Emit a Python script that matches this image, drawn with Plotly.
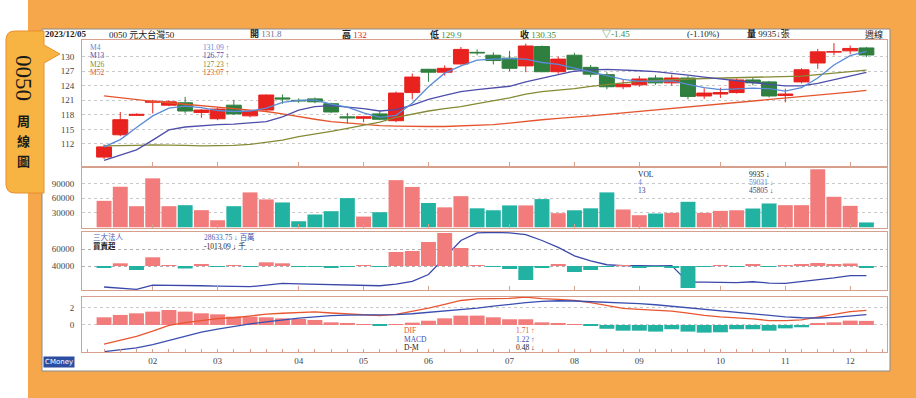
import plotly.graph_objects as go

W, H = 916, 398

# ---------------- data ----------------
weeks = list(range(48))
month_idx = [3, 7, 12, 16, 20, 25, 29, 33, 38, 42, 46]
month_labels = ["02", "03", "04", "05", "06", "07", "08", "09", "10", "11", "12"]

open_ = [109.3, 113.9, 117.9, 120.6, 120.0, 120.5, 118.5, 117.2, 120.0, 117.8,
         119.0, 121.5, 121.0, 121.3, 120.3, 117.6, 117.3, 118.2, 116.8, 122.6,
         127.4, 126.8, 128.5, 130.9, 130.3, 129.7, 128.1, 132.1, 126.9, 130.3,
         127.8, 126.3, 123.8, 124.2, 125.6, 124.6, 125.6, 121.9, 122.3, 122.6,
         125.2, 124.8, 122.0, 124.8, 128.7, 131.0, 131.2, 131.8]
high = [111.9, 118.6, 118.3, 121.1, 121.0, 121.7, 119.2, 119.5, 121.1, 119.0,
        122.2, 122.2, 121.4, 121.6, 120.5, 118.4, 117.8, 118.9, 122.8, 126.5,
        127.5, 128.2, 132.0, 131.5, 130.9, 131.2, 132.7, 132.3, 130.0, 130.8,
        128.3, 126.8, 125.4, 126.0, 126.2, 126.3, 126.0, 123.5, 123.6, 125.5,
        125.8, 125.0, 123.4, 127.6, 131.6, 132.8, 132.3, 132.0]
low = [108.9, 113.6, 117.8, 118.3, 119.8, 118.3, 117.4, 116.9, 118.0, 117.5,
       118.8, 120.3, 120.5, 120.4, 118.4, 116.2, 116.5, 116.9, 116.5, 121.2,
       124.8, 126.1, 128.4, 130.3, 128.4, 127.0, 126.8, 126.8, 126.5, 127.2,
       125.8, 123.3, 123.3, 123.8, 124.2, 124.0, 121.2, 121.3, 121.5, 122.4,
       124.1, 121.6, 120.6, 124.5, 127.5, 130.3, 130.5, 129.9]
close = [111.4, 117.0, 118.1, 120.8, 120.7, 118.8, 119.0, 119.2, 118.2, 118.8,
         122.1, 121.3, 120.9, 120.7, 118.6, 117.4, 117.6, 117.1, 122.5, 125.8,
         126.8, 127.6, 131.5, 130.8, 129.2, 127.6, 132.2, 126.9, 129.5, 127.4,
         126.4, 123.8, 124.3, 125.4, 124.6, 125.6, 121.8, 122.5, 122.6, 125.2,
         124.6, 121.9, 122.3, 127.3, 131.0, 131.0, 131.7, 130.35]

m4 = [111.4, 112.9, 115.4, 117.8, 119.4, 119.8, 119.5, 118.9, 118.7, 118.8,
      119.4, 120.6, 121.0, 121.1, 120.2, 119.6, 118.4, 117.5, 117.9, 120.4,
      123.8, 126.6, 128.1, 129.3, 129.5, 129.6, 129.5, 128.8, 128.4, 127.6,
      126.9, 126.0, 125.3, 124.9, 124.9, 125.0, 124.3, 123.6, 123.2, 123.3,
      123.5, 123.4, 122.9, 123.6, 125.6, 128.3, 130.2, 131.09]
m13 = [108.6, 109.7, 110.8, 112.8, 114.9, 115.5, 115.8, 116.0, 116.1, 116.3,
       116.6, 117.6, 119.0, 119.7, 119.9, 119.6, 119.3, 118.8, 119.1, 120.0,
       121.2, 122.0, 122.8, 123.2, 123.5, 123.9, 124.8, 125.6, 126.3, 127.0,
       127.3, 127.4, 127.3, 127.1, 126.9, 126.6, 126.2, 125.8, 125.4, 125.0,
       124.6, 124.3, 124.0, 124.0, 124.5, 125.3, 126.1, 126.77]
m26 = [111.6, 111.6, 111.7, 111.8, 111.8, 111.7, 111.6, 111.6, 111.7, 111.9,
       112.3, 112.8, 113.5, 114.0, 114.6, 115.2, 115.8, 116.5, 117.5, 118.2,
       118.8, 119.3, 119.7, 120.3, 120.9, 121.5, 122.3, 122.8, 123.1, 123.4,
       123.9, 124.3, 124.6, 124.9, 125.1, 125.3, 125.4, 125.5, 125.6, 125.7,
       125.8, 125.9, 125.9, 126.0, 126.3, 126.6, 126.9, 127.23]
m52 = [121.9, 121.5, 121.1, 120.8, 120.5, 120.2, 120.0, 119.6, 119.3, 119.0,
       118.7, 118.2, 117.6, 117.1, 116.6, 116.3, 116.1, 115.8, 115.7, 115.6,
       115.6, 115.6, 115.7, 115.8, 116.0, 116.3, 116.7, 117.0, 117.3, 117.5,
       117.8, 118.1, 118.4, 118.7, 119.0, 119.3, 119.6, 119.9, 120.2, 120.5,
       120.8, 121.1, 121.4, 121.7, 122.0, 122.4, 122.7, 123.07]

volume = [54400, 83400, 43400, 100700, 43400, 45500, 35200, 14500, 43400, 71800,
          57300, 51100, 12400, 26300, 33100, 60000, 22000, 31000, 97000, 83000,
          50000, 41000, 64000, 39000, 35000, 45000, 45000, 58000, 29000, 35000,
          39000, 71800, 36600, 24800, 28300, 29600, 52400, 29600, 33800, 35000,
          38600, 49000, 45500, 45500, 119400, 62700, 44100, 9935]
vol_ticks = [30000, 60000, 90000]

inst_hold = [15300, 14000, 12600, 17600, 17500, 17000, 16800, 16300, 16000, 15700,
             17500, 19600, 19000, 18600, 18500, 18000, 17200, 16800, 18800, 22000,
             30000, 50000, 70000, 79000, 79500, 79000, 77000, 70000, 62000, 52000,
             46000, 41500, 40500, 40500, 40000, 40500, 21000, 21000, 20500, 20500,
             21500, 20000, 19500, 21500, 23500, 26000, 28800, 28633.75]
inst_net = [-1500, 2700, -4000, 8700, 200, -2500, 2000, -300, 300, -200,
            3700, 2700, -500, -500, -2000, -1000, 1000, -800, 14000, 15000,
            24000, 33000, 18000, 300, -1000, -3000, -14000, -2000, 2000, -6000,
            -4000, -1000, 500, -1500, -1000, -2000, -22000, -500, 1000, -500,
            2000, -1000, 500, 1500, 3000, 1500, 2500, -1013.09]
inst_ticks = [40000, 60000]

dif = [-2.24, -1.77, -1.33, -0.73, -0.04, 0.27, 0.52, 0.75, 0.85, 1.08,
       1.27, 1.38, 1.5, 1.54, 1.41, 1.28, 1.21, 1.1, 1.24, 1.59,
       1.98, 2.41, 2.88, 3.08, 3.12, 3.14, 3.27, 3.1, 3.02, 2.88,
       2.64, 2.27, 1.95, 1.83, 1.7, 1.62, 1.4, 1.12, 0.95, 0.85,
       0.72, 0.52, 0.5, 0.6, 0.94, 1.21, 1.56, 1.71]
macd = [-3.14, -2.95, -2.7, -2.3, -1.8, -1.3, -0.85, -0.5, -0.15, 0.12,
        0.37, 0.6, 0.8, 0.95, 1.1, 1.16, 1.17, 1.18, 1.22, 1.32,
        1.48, 1.63, 1.78, 1.98, 2.22, 2.45, 2.62, 2.78, 2.85, 2.82,
        2.76, 2.7, 2.6, 2.5, 2.38, 2.2, 2.05, 1.9, 1.72, 1.5,
        1.3, 1.15, 0.95, 0.85, 0.82, 0.9, 1.05, 1.22]
dm = [0.9, 1.18, 1.37, 1.57, 1.76, 1.57, 1.37, 1.25, 0.98, 0.98,
      0.9, 0.78, 0.7, 0.59, 0.31, 0.12, 0.04, -0.1, 0.02, 0.27,
      0.5, 0.78, 1.1, 1.1, 0.9, 0.67, 0.67, 0.31, 0.2, 0.08,
      -0.12, -0.45, -0.67, -0.67, -0.78, -0.5, -0.78, -0.9, -0.86, -0.5,
      -0.5, -0.67, -0.4, -0.27, 0.12, 0.31, 0.51, 0.48]

# ---------------- style ----------------
SERIF = "Liberation Serif, Noto Sans CJK TC, serif"
CJK = "Noto Sans CJK TC, sans-serif"
UP_C, DN_C = "#e8221e", "#2f7f3f"
VUP, VDN = "#f27b7b", "#22b2a2"
BORDER = "#d7a08c"
GRID = "#c9c9c9"
C_M4, C_M13, C_M26, C_M52 = "#5a8ad8", "#4e4eaa", "#868a36", "#e4552e"
LEG = 7.5


def px_x(p):
    return p / W


def px_y(p):
    return 1 - p / H


XL, XR = 82, 887
X_RANGE = [-1.36, 48.27]
panels = {1: (40, 166), 2: (168, 228), 3: (232, 290), 4: (297, 352)}

fig = go.Figure()

# price panel
fig.add_trace(go.Candlestick(
    x=weeks, open=open_, high=high, low=low, close=close,
    increasing=dict(line=dict(color=UP_C, width=1), fillcolor=UP_C),
    decreasing=dict(line=dict(color=DN_C, width=1), fillcolor=DN_C),
    whiskerwidth=0, xaxis="x", yaxis="y", showlegend=False, hoverinfo="skip"))
for arr, col in [(m52, C_M52), (m26, C_M26), (m13, C_M13), (m4, C_M4)]:
    fig.add_trace(go.Scatter(x=weeks, y=arr, mode="lines",
                             line=dict(color=col, width=1.3),
                             xaxis="x", yaxis="y", showlegend=False, hoverinfo="skip"))

# volume panel
vcols = [VUP if c >= o else VDN for o, c in zip(open_, close)]
fig.add_trace(go.Bar(x=weeks, y=volume, marker=dict(color=vcols, line=dict(width=0)),
                     width=0.92, xaxis="x2", yaxis="y2", showlegend=False, hoverinfo="skip"))

# institutional panel
icols = [VUP if v >= 0 else VDN for v in inst_net]
fig.add_trace(go.Bar(x=weeks, y=inst_net, marker=dict(color=icols, line=dict(width=0)),
                     width=0.92, xaxis="x3", yaxis="y4", showlegend=False, hoverinfo="skip"))
fig.add_trace(go.Scatter(x=weeks, y=inst_hold, mode="lines",
                         line=dict(color="#3a48a8", width=1.3),
                         xaxis="x3", yaxis="y3", showlegend=False, hoverinfo="skip"))

# MACD panel
mcols = [VUP if v >= 0 else VDN for v in dm]
fig.add_trace(go.Bar(x=weeks, y=dm, marker=dict(color=mcols, line=dict(width=0)),
                     width=0.92, xaxis="x4", yaxis="y5", showlegend=False, hoverinfo="skip"))
fig.add_trace(go.Scatter(x=weeks, y=dif, mode="lines", line=dict(color="#e8552e", width=1.3),
                         xaxis="x4", yaxis="y5", showlegend=False, hoverinfo="skip"))
fig.add_trace(go.Scatter(x=weeks, y=macd, mode="lines", line=dict(color="#3a4fb0", width=1.3),
                         xaxis="x4", yaxis="y5", showlegend=False, hoverinfo="skip"))

tickfont = dict(family=SERIF, size=9, color="#444")
xdom = [px_x(XL), px_x(XR)]


def xax(anchor, labels=False, ticks_inside=True):
    return dict(domain=xdom, range=X_RANGE, anchor=anchor, showgrid=False, zeroline=False,
                showline=True, mirror=True, linecolor=BORDER, linewidth=1,
                tickvals=month_idx, ticktext=month_labels, showticklabels=labels,
                ticks="inside" if ticks_inside else "", ticklen=4, tickcolor=BORDER,
                tickfont=tickfont, fixedrange=True)


def yax(p, rng, tickvals, anchor, **kw):
    top, bot = panels[p]
    d = dict(domain=[px_y(bot), px_y(top)], range=rng, anchor=anchor,
             tickvals=tickvals, ticktext=[str(v) for v in tickvals],
             showgrid=True, gridcolor=GRID, griddash="dot", gridwidth=1,
             zeroline=False, showline=True, mirror=True, linecolor=BORDER, linewidth=1,
             ticks="", tickfont=tickfont, ticklabelstandoff=5, fixedrange=True)
    d.update(kw)
    return d


fig.update_layout(
    width=W, height=H, margin=dict(l=0, r=0, t=0, b=0),
    paper_bgcolor="white", plot_bgcolor="white",
    boxgap=0.08, boxgroupgap=0, bargap=0.06, showlegend=False,
    xaxis=dict(**xax("y"), rangeslider=dict(visible=False)),
    xaxis2=xax("y2"),
    xaxis3=xax("y3"),
    xaxis4=dict(**xax("y5", labels=True, ticks_inside=False),
                minor=dict(dtick=1, tick0=0, ticks="inside", ticklen=3, tickcolor=BORDER)),
    yaxis=yax(1, [107.46, 133.44], [112, 115, 118, 121, 124, 127, 130], "x"),
    yaxis2=yax(2, [-1500, 122000], vol_ticks, "x2"),
    yaxis3=yax(3, [11800, 80000], inst_ticks, "x3", gridcolor="#b0b0b0"),
    yaxis4=dict(domain=[px_y(290), px_y(232)], range=[-24000, 34000], anchor="x3",
                overlaying="y3", visible=False, fixedrange=True),
    yaxis5=yax(4, [-3.18, 3.29], [0, 2], "x4"),
)

# ---------------- decorations ----------------
shapes = []
shapes.append(dict(type="rect", xref="paper", yref="paper", x0=px_x(28), x1=1, y0=0, y1=1,
                   fillcolor="#f6a64b", line=dict(width=0), layer="below"))
shapes.append(dict(type="rect", xref="paper", yref="paper", x0=px_x(42), x1=px_x(890),
                   y0=px_y(371), y1=px_y(29), fillcolor="white",
                   line=dict(color="#8a8a8a", width=1), layer="below"))


def P(x, y):
    return f"{px_x(x):.5f},{px_y(y):.5f}"


tx0, tx1, ty0, ty1, r = 6, 44, 31, 193, 9
tab_path = (f"M {P(tx0 + r, ty0)} L {P(tx1, ty0)} L {P(tx1, 45)} L {P(60, 54)} L {P(tx1, 63)} "
            f"L {P(tx1, ty1)} L {P(tx0 + r, ty1)} Q {P(tx0, ty1)} {P(tx0, ty1 - r)} "
            f"L {P(tx0, ty0 + r)} Q {P(tx0, ty0)} {P(tx0 + r, ty0)} Z")
shapes.append(dict(type="path", xref="paper", yref="paper", path=tab_path,
                   fillcolor="#f8b443", line=dict(color="#e8902e", width=1), layer="below"))
fig.update_layout(shapes=shapes)

ann = []


def A(text, x, y, color="#222", size=9, xanchor="left", family=SERIF, **kw):
    ann.append(dict(text=text, x=px_x(x), y=px_y(y), xref="paper", yref="paper",
                    xanchor=xanchor, yanchor="middle", showarrow=False,
                    font=dict(family=family, size=size, color=color), **kw))


# tab text
A("0050", 23, 78, color="#1a1a1a", size=23, xanchor="center", textangle=90)
for i, ch in enumerate(["周", "線", "圖"]):
    A(f"<b>{ch}</b>", 23, 121 + i * 19.5, color="#1a1a1a", size=13, xanchor="center", family=CJK)

# header
hy = 34
A("<b>2023/12/05</b>", 43, hy, color="#222")
A("0050 元大台灣50", 107, hy, color="#222")
A("<b>開</b> <span style='color:#707090'>131.8</span>", 248, hy)
A("<b>高</b> <span style='color:#e8221e'>132</span>", 340, hy)
A("<b>低</b> <span style='color:#3a8a3a'>129.9</span>", 428, hy)
A("<b>收</b> <span style='color:#3a8a3a'>130.35</span>", 518, hy)
A("<span style='color:#3a8a3a'>▽-1.45</span>", 600, hy)
A("(-1.10%)", 685, hy)
A("<b>量</b> 9935↓張", 745, hy)
A("週線", 863, hy)

# price legend
for (lab, val, col), yy in zip([("M4", "131.09 ↑", C_M4), ("M13", "126.77 ↑", C_M13),
                                ("M26", "127.23 ↑", C_M26), ("M52", "123.07 ↑", C_M52)],
                               [47, 55.5, 64, 72.5]):
    A(lab, 88, yy, color=col, size=LEG)
    A(val, 231, yy, color=col, xanchor="right", size=LEG)

# volume legend
for (lab, val, col), yy in zip([("VOL", "9935 ↓", "#222"), ("4", "59031 ↓", C_M4),
                                ("13", "45805 ↓", "#3c3c7a")], [174.5, 182.5, 190.5]):
    A(lab, 636, yy, color=col, size=LEG)
    A(val, 747, yy, color=col, size=LEG)

# institutional legend
A("三大法人", 91, 237.5, color="#4a5ab0", size=LEG)
A("<b>買賣超</b>", 91, 246, color="#222", size=LEG)
A("28633.75 ↓ 百萬", 202, 237.5, color="#4a5ab0", size=LEG)
A("-1013.09 ↓ 千", 202, 246, color="#222", size=LEG)

# MACD legend
for (lab, val, col), yy in zip([("DIF", "1.71 ↑", "#e8552e"), ("MACD", "1.22 ↑", "#3a4fb0"),
                                ("D-M", "0.48 ↓", "#222")], [330.5, 339, 347.5]):
    A(lab, 402, yy, color=col, size=LEG)
    A(val, 537, yy, color=col, xanchor="right", size=LEG)

A("CMoney", 59, 362, color="white", size=7, xanchor="center", family="DejaVu Sans",
  bgcolor="#2d4da0", borderpad=1)

fig.update_layout(annotations=ann)
fig.write_html("out.html")
